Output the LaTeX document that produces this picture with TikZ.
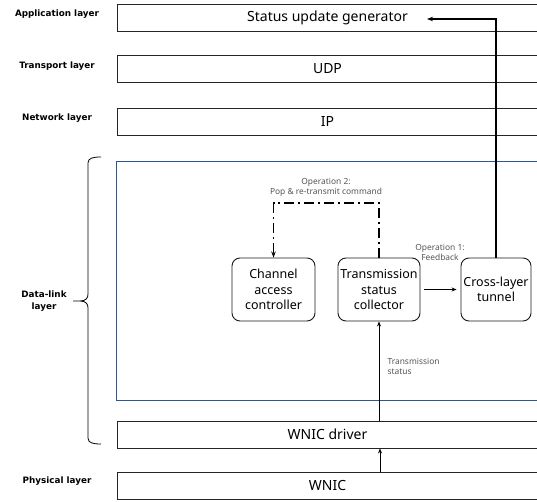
\documentclass[tikz,border=0pt]{standalone}
\usepackage{fontspec}
\setmainfont{Noto Sans}
\newfontfamily\sidefont{DejaVu Sans}
\usetikzlibrary{arrows.meta}
\definecolor{dlblue}{HTML}{2F5597}
\definecolor{lblgray}{HTML}{555555}
\begin{document}
\begin{tikzpicture}[x=1pt,y=-1pt,
  layerbox/.style={draw=black!85,line width=0.9pt,minimum width=421pt,minimum height=27pt,inner sep=0pt,font=\fontsize{14}{16}\selectfont},
  func/.style={draw=black!90,line width=0.9pt,rounded corners=8pt,minimum height=63pt,inner sep=1pt,align=center,font=\fontsize{12.5}{15.5}\selectfont},
  side/.style={font=\sidefont\bfseries\fontsize{8.8}{12}\selectfont,align=center},
  small/.style={text=lblgray,font=\fontsize{8.4}{10}\selectfont,align=center},
  thick arrow/.style={line width=1.6pt,-{Stealth[length=6pt,width=4.5pt]}},
  thin arrow/.style={line width=0.8pt,-{Stealth[length=5pt,width=4pt]}}]
\useasboundingbox (0,0) rectangle (537,502);
% layer boxes
\node[layerbox] (app) at (327.5,17.5) {Status update generator};
\node[layerbox] (udp) at (327.5,68.5) {UDP};
\node[layerbox] (ip) at (327.5,121.5) {IP};
\node[layerbox] (drv) at (327.5,434.5) {WNIC driver};
\node[layerbox] (wnic) at (327.5,485.5) {WNIC};
% data-link box
\node[draw=dlblue,line width=0.8pt,minimum width=424pt,minimum height=239pt,inner sep=0pt] (dl) at (328.5,280.5) {};
% side labels
\node[side] (lapp) at (57,14) {Application layer};
\node[side] (ltr) at (57,66) {Transport layer};
\node[side] (lnet) at (57,118) {Network layer};
\node[side] (ldl) at (44,301) {Data-link\\layer};
\node[side] (lphy) at (57,481) {Physical layer};
% brace
\draw[line width=0.8pt] (101,157) .. controls (93,157) and (88,158) .. (88,163)
  -- (88,294) .. controls (88,298) and (86,301) .. (80,301) -- (73,301)
  (80,301) .. controls (86,301) and (88,304) .. (88,308)
  -- (88,438) .. controls (88,443) and (93,444) .. (101,444);
% functional blocks
\node[func,minimum width=83pt] (chan) at (273.5,289.5) {Channel\\access\\controller};
\node[func,minimum width=82pt] (coll) at (379,289.5) {Transmission\\status\\collector};
\node[func,minimum width=70pt] (tun) at (496,289.5) {Cross-layer\\tunnel};
% connectors
\coordinate (appin) at (427,19);
\draw[thick arrow] (tun.north) -- (tun.north |- appin) -- (appin);
\coordinate (optop) at (0,203);
\draw[line width=1.6pt,dash pattern=on 10pt off 4pt on 2pt off 4pt,-{Stealth[length=6pt,width=4.5pt]}]
  (coll.north) -- (coll.north |- optop) -- (chan.north |- optop) -- (chan.north);
\node[small] (op2) at (326,187) {Operation 2:\\Pop \& re-transmit command};
\draw[thin arrow] ([xshift=4pt]coll.east) -- ([xshift=-4pt]tun.west);
\node[small] (op1) at (440,252) {Operation 1:\\Feedback};
\draw[thin arrow] (drv.north -| coll.south) -- (coll.south);
\node[small,align=left,anchor=west] (ts) at (384,366.5) {Transmission\\status};
\draw[thin arrow] (wnic.north -| 380,0) -- (drv.south -| 380,0);
\end{tikzpicture}
\end{document}
